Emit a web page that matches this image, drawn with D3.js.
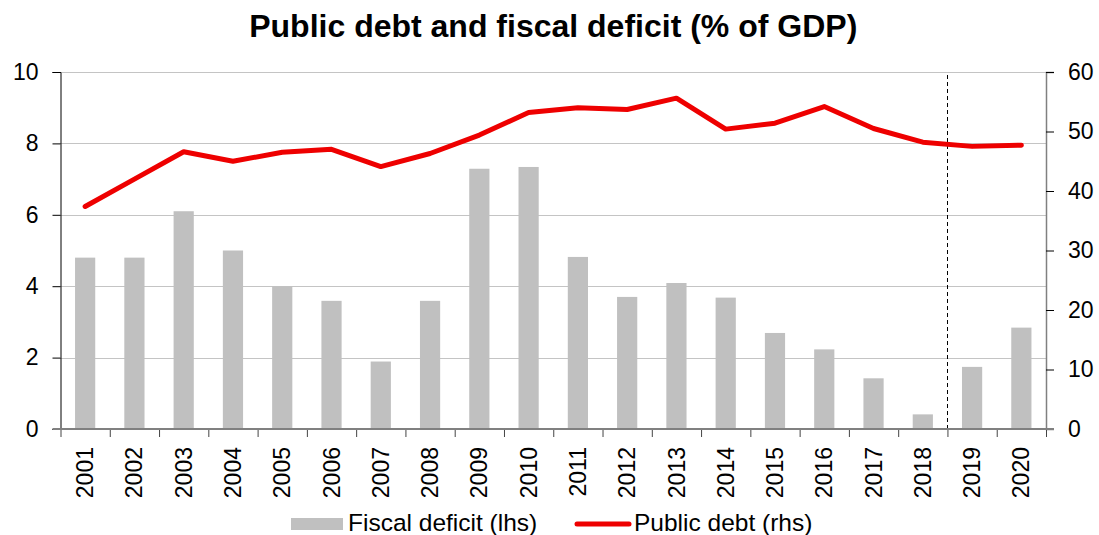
<!DOCTYPE html>
<html>
<head>
<meta charset="utf-8">
<script src="https://cdn.jsdelivr.net/npm/d3@7/dist/d3.min.js"></script>
<style>
  html, body { margin: 0; padding: 0; background: #fff; }
  svg { display: block; font-family: "Liberation Sans", Arial, Helvetica, sans-serif; }
</style>
</head>
<body>
<svg id="chart" width="1099" height="535"></svg>
<script>
// ---- data ----
const years = ["2001","2002","2003","2004","2005","2006","2007","2008","2009","2010",
               "2011","2012","2013","2014","2015","2016","2017","2018","2019","2020"];
const fiscalDeficit = [4.8, 4.8, 6.1, 5.0, 4.0, 3.59, 1.89, 3.59, 7.29, 7.34,
                       4.82, 3.7, 4.09, 3.68, 2.69, 2.23, 1.42, 0.41, 1.74, 2.84];
const publicDebt = [37.4, 42.0, 46.6, 45.0, 46.5, 47.0, 44.1, 46.3, 49.4, 53.2,
                    54.0, 53.7, 55.6, 50.4, 51.4, 54.2, 50.5, 48.2, 47.5, 47.7];
const leftTicks = [0, 2, 4, 6, 8, 10];
const rightTicks = [0, 10, 20, 30, 40, 50, 60];
const forecastFrom = "2019";
const titleText = "Public debt and fiscal deficit (% of GDP)";
const legendLabels = ["Fiscal deficit (lhs)", "Public debt (rhs)"];

// ---- layout ----
const plot = { left: 60.5, right: 1046, top: 72, bottom: 429 };
const barColor = "#c0c0c0";
const lineColor = "#ee0000";
const axisGrey = "#808080";

const svg = d3.select("#chart");

const x = d3.scaleBand()
  .domain(years)
  .range([plot.left, plot.right])
  .paddingInner(0.59)
  .paddingOuter(0.295);

// band boundaries, used for the category tick marks and the forecast divider
const xEdge = d3.scaleLinear()
  .domain([0, years.length])
  .range([plot.left, plot.right]);

const yL = d3.scaleLinear().domain([0, 10]).range([plot.bottom, plot.top]);
const yR = d3.scaleLinear().domain([0, 60]).range([plot.bottom, plot.top]);

// ---- title ----
svg.append("text")
  .attr("x", (plot.left + plot.right) / 2)
  .attr("y", 37)
  .attr("text-anchor", "middle")
  .style("font-weight", "bold")
  .style("font-size", "32px")
  .attr("fill", "#000")
  .text(titleText);

// ---- gridlines (left scale) ----
svg.append("g")
  .selectAll("line")
  .data(leftTicks.filter(d => d > 0))
  .join("line")
  .attr("x1", plot.left)
  .attr("x2", plot.right)
  .attr("y1", d => Math.round(yL(d)) + 0.5)
  .attr("y2", d => Math.round(yL(d)) + 0.5)
  .attr("stroke", "#888")
  .attr("stroke-width", 1)
  .attr("stroke-dasharray", "1,1");

// ---- bars ----
svg.append("g")
  .selectAll("rect")
  .data(years.map((y, i) => ({ year: y, v: fiscalDeficit[i] })))
  .join("rect")
  .attr("x", d => x(d.year))
  .attr("width", x.bandwidth())
  .attr("y", d => yL(d.v))
  .attr("height", d => yL(0) - yL(d.v))
  .attr("fill", barColor);

// ---- forecast divider ----
const divX = Math.round(xEdge(years.indexOf(forecastFrom))) + 0.5;
svg.append("line")
  .attr("x1", divX).attr("x2", divX)
  .attr("y1", plot.top + 3).attr("y2", plot.bottom)
  .attr("stroke", "#000")
  .attr("stroke-width", 1)
  .attr("stroke-dasharray", "4,3");

// ---- left axis ----
const gL = svg.append("g")
  .attr("transform", `translate(${plot.left},0)`)
  .call(d3.axisLeft(yL).tickValues(leftTicks).tickSize(8).tickPadding(14).tickFormat(d3.format("d")));
gL.select(".domain").attr("stroke", "#000");
gL.selectAll(".tick line").attr("stroke", "#000");
gL.selectAll(".tick text")
  .style("font-size", "23px")
  .style("font-family", "\"Liberation Sans\", Arial, sans-serif")
  .attr("fill", "#000");

// ---- right axis ----
const gR = svg.append("g")
  .attr("transform", `translate(${plot.right},0)`)
  .call(d3.axisRight(yR).tickValues(rightTicks).tickSize(8).tickPadding(14).tickFormat(d3.format("d")));
gR.select(".domain").attr("stroke", axisGrey).attr("stroke-width", 1.5);
gR.selectAll(".tick line").attr("stroke", "#000");
gR.selectAll(".tick text")
  .style("font-size", "23px")
  .style("font-family", "\"Liberation Sans\", Arial, sans-serif")
  .attr("fill", "#000");

// ---- category axis: tick marks at band boundaries ----
const gEdge = svg.append("g")
  .attr("transform", `translate(0,${plot.bottom})`)
  .call(d3.axisBottom(xEdge).tickValues(d3.range(0, years.length + 1)).tickSize(8).tickFormat(""));
gEdge.select(".domain").remove();
gEdge.selectAll(".tick line").attr("stroke", "#444");

// baseline
svg.append("line")
  .attr("x1", plot.left - 8).attr("x2", plot.right + 8)
  .attr("y1", plot.bottom).attr("y2", plot.bottom)
  .attr("stroke", axisGrey)
  .attr("stroke-width", 2);

// ---- category labels (rotated) ----
const gX = svg.append("g")
  .attr("transform", `translate(0,${plot.bottom})`)
  .call(d3.axisBottom(x).tickSize(0).tickPadding(0));
gX.select(".domain").remove();
gX.selectAll(".tick text")
  .attr("transform", "translate(0,18) rotate(-90)")
  .attr("x", 0)
  .attr("y", 0)
  .attr("dy", "0.35em")
  .attr("text-anchor", "end")
  .style("font-size", "23px")
  .style("font-family", "\"Liberation Sans\", Arial, sans-serif")
  .attr("fill", "#000");

// ---- public debt line (right scale) ----
const line = d3.line()
  .x((d, i) => x(years[i]) + x.bandwidth() / 2)
  .y(d => yR(d));
svg.append("path")
  .datum(publicDebt)
  .attr("d", line)
  .attr("fill", "none")
  .attr("stroke", lineColor)
  .attr("stroke-width", 5)
  .attr("stroke-linejoin", "round")
  .attr("stroke-linecap", "round");

// ---- legend ----
const legend = svg.append("g").style("font-size", "24.5px");
legend.append("rect")
  .attr("x", 291).attr("y", 518)
  .attr("width", 52).attr("height", 12)
  .attr("fill", barColor);
legend.append("text")
  .attr("x", 348).attr("y", 531)
  .attr("fill", "#000")
  .text(legendLabels[0]);
legend.append("line")
  .attr("x1", 577).attr("x2", 629)
  .attr("y1", 524).attr("y2", 524)
  .attr("stroke", lineColor)
  .attr("stroke-width", 5)
  .attr("stroke-linecap", "round");
legend.append("text")
  .attr("x", 634).attr("y", 531)
  .attr("fill", "#000")
  .text(legendLabels[1]);
</script>
</body>
</html>
